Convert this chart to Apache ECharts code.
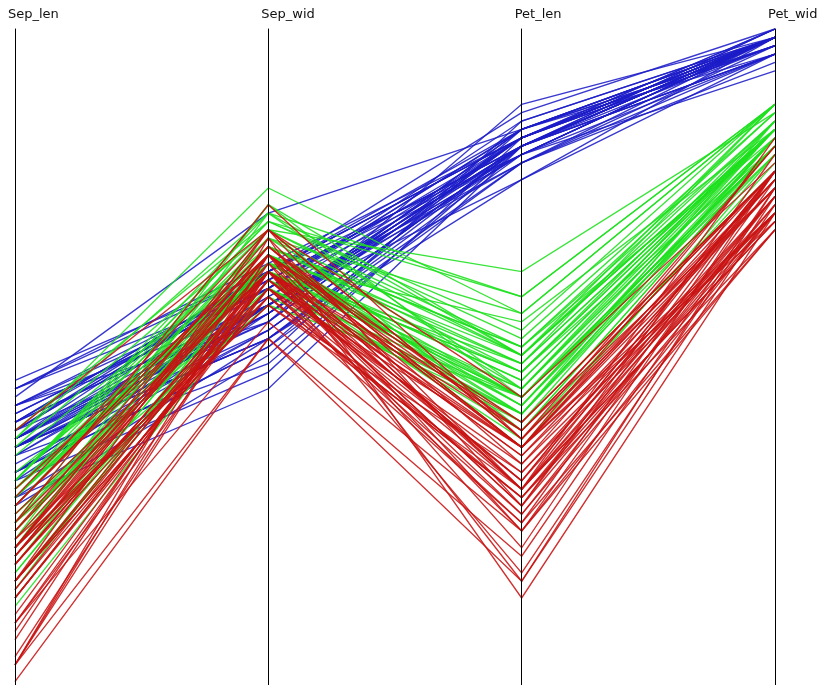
<!DOCTYPE html>
<html>
<head>
<meta charset="utf-8">
<script src="https://cdn.jsdelivr.net/npm/echarts@6/dist/echarts.min.js"></script>
<style>
  html, body { margin: 0; padding: 0; background: #ffffff; }
  #chart { width: 823px; height: 685px; }
</style>
</head>
<body>
<div id="chart"></div>
<script>
// Axis names (one per dimension)
var dimensions = ['Sep_len', 'Sep_wid', 'Pet_len', 'Pet_wid'];

// Iris measurements: [Sep_len, Sep_wid, Pet_len, Pet_wid]
var setosa = [
  [5.1,3.5,1.4,0.2],[4.9,3.0,1.4,0.2],[4.7,3.2,1.3,0.2],[4.6,3.1,1.5,0.2],[5.0,3.6,1.4,0.2],
  [5.4,3.9,1.7,0.4],[4.6,3.4,1.4,0.3],[5.0,3.4,1.5,0.2],[4.4,2.9,1.4,0.2],[4.9,3.1,1.5,0.1],
  [5.4,3.7,1.5,0.2],[4.8,3.4,1.6,0.2],[4.8,3.0,1.4,0.1],[4.3,3.0,1.1,0.1],[5.8,4.0,1.2,0.2],
  [5.7,4.4,1.5,0.4],[5.4,3.9,1.3,0.4],[5.1,3.5,1.4,0.3],[5.7,3.8,1.7,0.3],[5.1,3.8,1.5,0.3],
  [5.4,3.4,1.7,0.2],[5.1,3.7,1.5,0.4],[4.6,3.6,1.0,0.2],[5.1,3.3,1.7,0.5],[4.8,3.4,1.9,0.2],
  [5.0,3.0,1.6,0.2],[5.0,3.4,1.6,0.4],[5.2,3.5,1.5,0.2],[5.2,3.4,1.4,0.2],[4.7,3.2,1.6,0.2],
  [4.8,3.1,1.6,0.2],[5.4,3.4,1.5,0.4],[5.2,4.1,1.5,0.1],[5.5,4.2,1.4,0.2],[4.9,3.1,1.5,0.2],
  [5.0,3.2,1.2,0.2],[5.5,3.5,1.3,0.2],[4.9,3.6,1.4,0.1],[4.4,3.0,1.3,0.2],[5.1,3.4,1.5,0.2],
  [5.0,3.5,1.3,0.3],[4.5,2.3,1.3,0.3],[4.4,3.2,1.3,0.2],[5.0,3.5,1.6,0.6],[5.1,3.8,1.9,0.4],
  [4.8,3.0,1.4,0.3],[5.1,3.8,1.6,0.2],[4.6,3.2,1.4,0.2],[5.3,3.7,1.5,0.2],[5.0,3.3,1.4,0.2]
];

var versicolor = [
  [7.0,3.2,4.7,1.4],[6.4,3.2,4.5,1.5],[6.9,3.1,4.9,1.5],[5.5,2.3,4.0,1.3],[6.5,2.8,4.6,1.5],
  [5.7,2.8,4.5,1.3],[6.3,3.3,4.7,1.6],[4.9,2.4,3.3,1.0],[6.6,2.9,4.6,1.3],[5.2,2.7,3.9,1.4],
  [5.0,2.0,3.5,1.0],[5.9,3.0,4.2,1.5],[6.0,2.2,4.0,1.0],[6.1,2.9,4.7,1.4],[5.6,2.9,3.6,1.3],
  [6.7,3.1,4.4,1.4],[5.6,3.0,4.5,1.5],[5.8,2.7,4.1,1.0],[6.2,2.2,4.5,1.5],[5.6,2.5,3.9,1.1],
  [5.9,3.2,4.8,1.8],[6.1,2.8,4.0,1.3],[6.3,2.5,4.9,1.5],[6.1,2.8,4.7,1.2],[6.4,2.9,4.3,1.3],
  [6.6,3.0,4.4,1.4],[6.8,2.8,4.8,1.4],[6.7,3.0,5.0,1.7],[6.0,2.9,4.5,1.5],[5.7,2.6,3.5,1.0],
  [5.5,2.4,3.8,1.1],[5.5,2.4,3.7,1.0],[5.8,2.7,3.9,1.2],[6.0,2.7,5.1,1.6],[5.4,3.0,4.5,1.5],
  [6.0,3.4,4.5,1.6],[6.7,3.1,4.7,1.5],[6.3,2.3,4.4,1.3],[5.6,3.0,4.1,1.3],[5.5,2.5,4.0,1.3],
  [5.5,2.6,4.4,1.2],[6.1,3.0,4.6,1.4],[5.8,2.6,4.0,1.2],[5.0,2.3,3.3,1.0],[5.6,2.7,4.2,1.3],
  [5.7,3.0,4.2,1.2],[5.7,2.9,4.2,1.3],[6.2,2.9,4.3,1.3],[5.1,2.5,3.0,1.1],[5.7,2.8,4.1,1.3]
];

var virginica = [
  [6.3,3.3,6.0,2.5],[5.8,2.7,5.1,1.9],[7.1,3.0,5.9,2.1],[6.3,2.9,5.6,1.8],[6.5,3.0,5.8,2.2],
  [7.6,3.0,6.6,2.1],[4.9,2.5,4.5,1.7],[7.3,2.9,6.3,1.8],[6.7,2.5,5.8,1.8],[7.2,3.6,6.1,2.5],
  [6.5,3.2,5.1,2.0],[6.4,2.7,5.3,1.9],[6.8,3.0,5.5,2.1],[5.7,2.5,5.0,2.0],[5.8,2.8,5.1,2.4],
  [6.4,3.2,5.3,2.3],[6.5,3.0,5.5,1.8],[7.7,3.8,6.7,2.2],[7.7,2.6,6.9,2.3],[6.0,2.2,5.0,1.5],
  [6.9,3.2,5.7,2.3],[5.6,2.8,4.9,2.0],[7.7,2.8,6.7,2.0],[6.3,2.7,4.9,1.8],[6.7,3.3,5.7,2.1],
  [7.2,3.2,6.0,1.8],[6.2,2.8,4.8,1.8],[6.1,3.0,4.9,1.8],[6.4,2.8,5.6,2.1],[7.2,3.0,5.8,1.6],
  [7.4,2.8,6.1,1.9],[7.9,3.8,6.4,2.0],[6.4,2.8,5.6,2.2],[6.3,2.8,5.1,1.5],[6.1,2.6,5.6,1.4],
  [7.7,3.0,6.1,2.3],[6.3,3.4,5.6,2.4],[6.4,3.1,5.5,1.8],[6.0,3.0,4.8,1.8],[6.9,3.1,5.4,2.1],
  [6.7,3.1,5.6,2.4],[6.9,3.1,5.1,2.3],[5.8,2.7,5.1,1.9],[6.8,3.2,5.9,2.3],[6.7,3.3,5.7,2.5],
  [6.7,3.0,5.2,2.3],[6.3,2.5,5.0,1.9],[6.5,3.0,5.2,2.0],[6.2,3.4,5.4,2.3],[5.9,3.0,5.1,1.8]
];

// Shared value range for every axis (runs a little past the largest value at the bottom)
var axisMin = 0.1;
var axisMax = 7.94;

var chart = echarts.init(document.getElementById('chart'), null, { renderer: 'canvas' });

function lineSeries(name, rows, color) {
  return {
    name: name,
    type: 'parallel',
    data: rows,
    smooth: false,
    silent: true,
    animation: false,
    lineStyle: { color: color, width: 1.35, opacity: 0.88 },
    inactiveOpacity: 1,
    activeOpacity: 1
  };
}

function axisFor(name, i) {
  return {
    dim: i,
    name: name,
    type: 'value',
    min: axisMin,
    max: axisMax,
    inverse: true,
    nameLocation: 'start',
    nameGap: 8,
    nameTextStyle: {
      color: '#111111',
      fontFamily: 'DejaVu Sans',
      fontSize: 13,
      align: 'left',
      verticalAlign: 'bottom',
      padding: [0, 0, 0, -7]
    },
    axisLine: { show: true, lineStyle: { color: '#000000', width: 1 } },
    axisTick: { show: false },
    axisLabel: {
      show: false,
      showMinLabel: false,
      showMaxLabel: false,
      color: 'rgba(0,0,0,0)',
      formatter: function () { return ''; }
    },
    splitLine: { show: false }
  };
}

chart.setOption({
  backgroundColor: '#ffffff',
  animation: false,
  parallel: {
    left: 15,
    right: 48,
    top: 29,
    bottom: 0,
    layout: 'horizontal',
    parallelAxisDefault: {
      axisLabel: { show: false },
      axisTick: { show: false }
    }
  },
  parallelAxis: dimensions.map(axisFor),
  series: [
    lineSeries('setosa', setosa, '#1c1cc8'),
    lineSeries('versicolor', versicolor, '#1ee01e'),
    lineSeries('virginica', virginica, '#c81212')
  ]
});
</script>
</body>
</html>
